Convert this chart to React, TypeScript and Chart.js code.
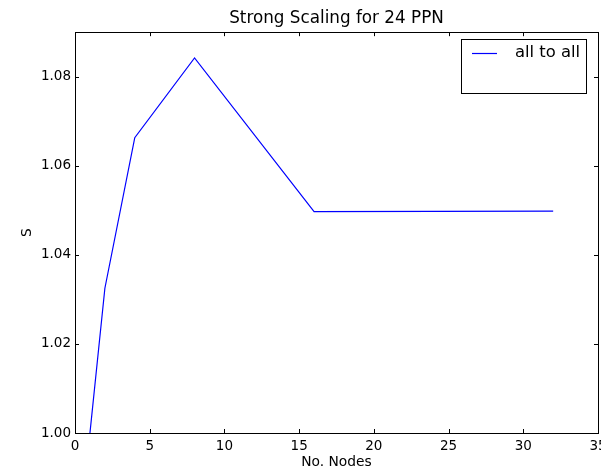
import React, { useEffect, useRef } from "react";
import { Chart, registerables } from "chart.js";

Chart.register(...registerables);

const nodes = [1, 2, 4, 8, 16, 32];
const speedup = [1.0, 1.0325, 1.0663, 1.0842, 1.0497, 1.0498];
const seriesLabel = "all to all";
const seriesColor = "#0000ff";
const titleText = "Strong Scaling for 24 PPN";
const xLabel = "No. Nodes";
const yLabel = "S";

const FONT = "'DejaVu Sans', sans-serif";

const framePlugin = {
  id: "frame",
  afterDatasetsDraw(chart: any) {
    const { ctx, chartArea } = chart;
    const { left, right, top, bottom } = chartArea;
    ctx.save();
    ctx.strokeStyle = "#000";
    ctx.lineWidth = 1;
    const xs = chart.scales.x;
    const ys = chart.scales.y;
    const L = 4;
    ctx.beginPath();
    xs.ticks.forEach((t: any) => {
      const px = Math.round(xs.getPixelForValue(t.value)) + 0.5;
      ctx.moveTo(px, bottom);
      ctx.lineTo(px, bottom - L);
      ctx.moveTo(px, top);
      ctx.lineTo(px, top + L);
    });
    ys.ticks.forEach((t: any) => {
      const py = Math.round(ys.getPixelForValue(t.value)) + 0.5;
      ctx.moveTo(left, py);
      ctx.lineTo(left + L, py);
      ctx.moveTo(right, py);
      ctx.lineTo(right - L, py);
    });
    ctx.stroke();
    ctx.strokeRect(Math.round(left) + 0.5, Math.round(top) + 0.5, Math.round(right - left), Math.round(bottom - top));
    ctx.restore();
  },
};

const legendPlugin = {
  id: "boxLegend",
  afterDraw(chart: any) {
    const { ctx } = chart;
    const ds = chart.data.datasets[0];
    ctx.save();
    ctx.fillStyle = "#fff";
    ctx.strokeStyle = "#000";
    ctx.lineWidth = 1;
    ctx.fillRect(461.5, 39.5, 125, 54);
    ctx.strokeRect(461.5, 39.5, 125, 54);
    ctx.strokeStyle = seriesColor;
    ctx.lineWidth = 1.2;
    ctx.beginPath();
    ctx.moveTo(472, 53.5);
    ctx.lineTo(497, 53.5);
    ctx.stroke();
    ctx.fillStyle = "#000";
    ctx.font = `16.4px ${FONT}`;
    ctx.textBaseline = "middle";
    ctx.textAlign = "left";
    ctx.fillText(ds.label, 515, 53);
    ctx.restore();
  },
};

export default function App() {
  const ref = useRef<HTMLCanvasElement>(null);
  useEffect(() => {
    const chart = new Chart(ref.current as HTMLCanvasElement, {
      type: "line",
      data: {
        datasets: [
          {
            label: seriesLabel,
            data: nodes.map((n, i) => ({ x: n, y: speedup[i] })),
            borderColor: seriesColor,
            borderWidth: 1.2,
            pointRadius: 0,
            tension: 0,
            fill: false,
          },
        ],
      },
      options: {
        animation: false,
        responsive: false,
        layout: { padding: { top: 0, right: 3, left: 0, bottom: 0 } },
        plugins: {
          legend: { display: false },
          tooltip: { enabled: false },
          title: {
            display: true,
            text: titleText,
            fullSize: false,
            color: "#000",
            font: { family: FONT, size: 16.8, weight: "normal", lineHeight: 1.2 },
            padding: { top: 9, bottom: 3 },
          },
        },
        scales: {
          x: {
            type: "linear",
            min: 0,
            max: 35,
            grid: { display: false, drawTicks: false },
            border: { display: false },
            ticks: {
              stepSize: 5,
              padding: 5,
              color: "#000",
              maxRotation: 0,
              font: { family: FONT, size: 13.5 },
              callback: (v: any) => String(v),
            },
            title: {
              display: true,
              text: xLabel,
              color: "#000",
              font: { family: FONT, size: 13.8, lineHeight: 1.0 },
              padding: 0,
            },
            afterFit: (s: any) => {
              s.height = 36;
              s.paddingLeft = 0;
              s.paddingRight = 0;
            },
          },
          y: {
            type: "linear",
            min: 1.0,
            max: 1.09,
            grid: { display: false, drawTicks: false },
            border: { display: false },
            ticks: {
              stepSize: 0.02,
              includeBounds: false,
              padding: 4,
              color: "#000",
              font: { family: FONT, size: 13.5 },
              callback: (v: any) => Number(v).toFixed(2),
            },
            title: {
              display: true,
              text: yLabel,
              color: "#000",
              font: { family: FONT, size: 13.8 },
              padding: { top: 19, bottom: 0 },
            },
            afterFit: (s: any) => {
              s.width = 75;
              s.paddingTop = 0;
              s.paddingBottom = 0;
            },
          },
        },
      },
      plugins: [framePlugin, legendPlugin],
    } as any);
    return () => chart.destroy();
  }, []);
  return (
    <div style={{ position: "absolute", left: 0, top: 0, width: 601, height: 469, background: "#fff" }}>
      <canvas ref={ref} width={601} height={469} />
    </div>
  );
}
